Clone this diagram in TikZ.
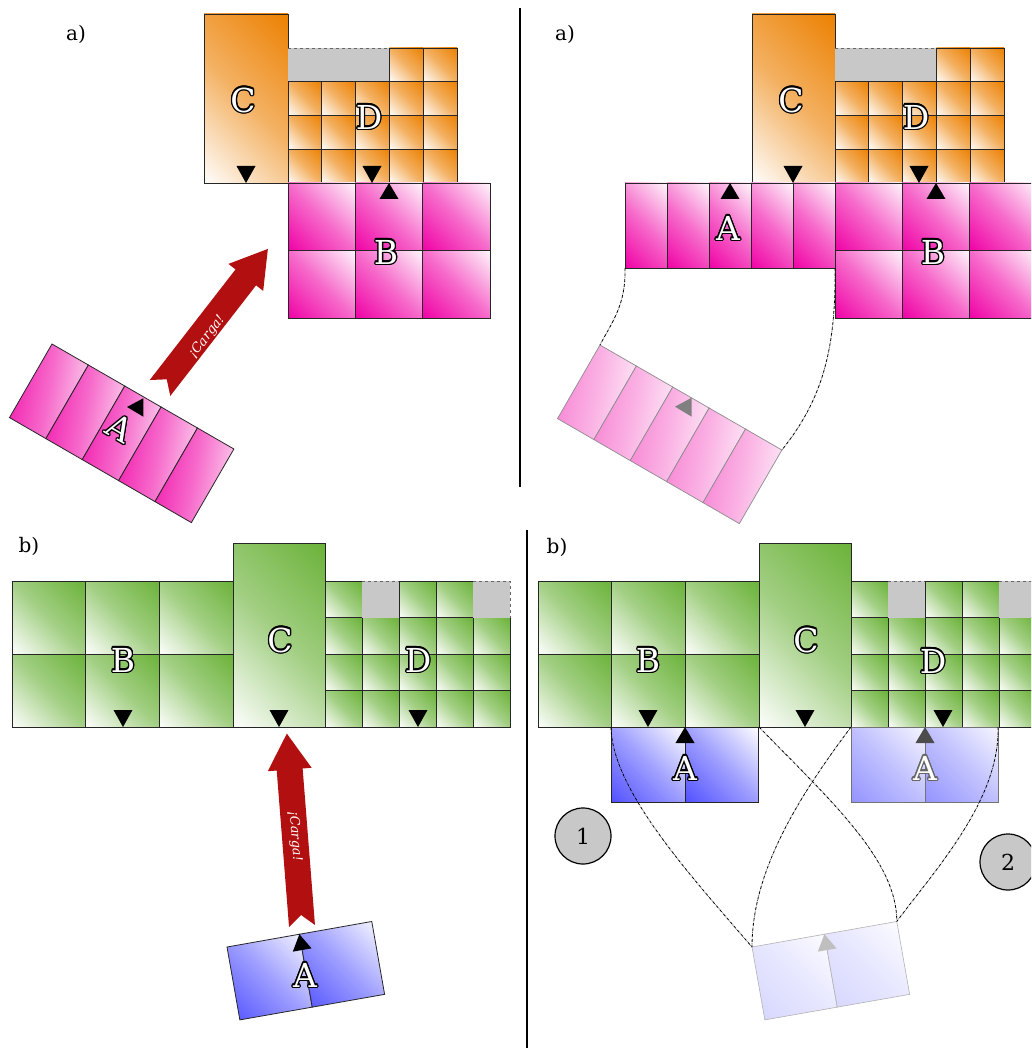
\documentclass[tikz,border=0pt]{standalone}
\usepackage{fontspec}
\setmainfont{DejaVu Serif}
\usetikzlibrary{calc}
\definecolor{Org}{RGB}{236,128,0}
\definecolor{Mag}{RGB}{240,0,165}
\definecolor{Grn}{RGB}{106,178,56}
\definecolor{Blu}{RGB}{80,80,255}
\definecolor{ArrRed}{RGB}{178,16,16}
\definecolor{Gry}{RGB}{200,200,200}
\pgfdeclareverticalshading{orgsh}{100bp}{color(0bp)=(white); color(14bp)=(white); color(50bp)=(Org!62); color(86bp)=(Org); color(100bp)=(Org)}
\pgfdeclareverticalshading{magsh}{100bp}{color(0bp)=(Mag); color(14bp)=(Mag); color(50bp)=(Mag!58); color(86bp)=(Mag!3); color(100bp)=(Mag!3)}
\pgfdeclareverticalshading{magghsh}{100bp}{color(0bp)=(Mag!55); color(14bp)=(Mag!55); color(50bp)=(Mag!30); color(86bp)=(white); color(100bp)=(white)}
\pgfdeclareverticalshading{grnsh}{100bp}{color(0bp)=(white); color(14bp)=(white); color(50bp)=(Grn!62); color(86bp)=(Grn); color(100bp)=(Grn)}
\pgfdeclareverticalshading{blush}{100bp}{color(0bp)=(Blu); color(14bp)=(Blu); color(50bp)=(Blu!55); color(86bp)=(white); color(100bp)=(white)}
\pgfdeclareverticalshading{bluhsh}{100bp}{color(0bp)=(Blu!62); color(14bp)=(Blu!62); color(50bp)=(Blu!36); color(86bp)=(Blu!5); color(100bp)=(Blu!5)}
\pgfdeclareverticalshading{blugsh}{100bp}{color(0bp)=(Blu!24); color(14bp)=(Blu!24); color(50bp)=(Blu!14); color(86bp)=(white); color(100bp)=(white)}
\tikzset{
  cellline/.style={draw=black!85, line width=0.8pt},
  org/.style={cellline, shade, shading=orgsh, shading angle=-45},
  mag/.style={cellline, shade, shading=magsh, shading angle=-45},
  magtilt/.style={cellline, shade, shading=magsh, shading angle=-100},
  magghost/.style={draw=black!45, line width=0.7pt, shade, shading=magghsh, shading angle=-100},
  grn/.style={cellline, shade, shading=grnsh, shading angle=-45},
  blu/.style={cellline, shade, shading=blush, shading angle=-45},
  bluhalf/.style={draw=black!55, line width=0.8pt, shade, shading=bluhsh, shading angle=-45},
  blughost/.style={draw=black!30, line width=0.6pt, shade, shading=blugsh, shading angle=-45},
  graycell/.style={fill=Gry},
  dashedge/.style={dashed, draw=black!60, line width=0.6pt},
  conn/.style={densely dash dot, draw=black, line width=0.8pt},
  biglbl/.style={inner sep=0pt, font=\fontsize{33}{33}\selectfont},
  panellbl/.style={inner sep=0pt, font=\fontsize{20}{20}\selectfont},
  arrowtxt/.style={inner sep=0pt, text=white, font=\fontsize{13}{13}\selectfont\itshape},
  numcircle/.style={circle, draw=black, line width=1.2pt, fill=Gry, minimum size=56pt, inner sep=0pt, font=\fontsize{22}{22}\selectfont},
  sep/.style={line width=2.5pt, draw=black},
  bigarrow/.style={fill=ArrRed},
}
% outlined label: [opts]{pos}{name}{text}{outline colour}
\newcommand\olbl[5][]{%
  \foreach \ang in {0,30,...,330}{\node[biglbl,text=#5,#1] (#3-o\ang) at ($(#2)+(\ang:1.3)$) {#4};}
  \node[biglbl,text=white,#1] (#3) at (#2) {#4};}
% triangles
\newcommand\tridn[3][black]{\fill[#1] ({#2-9.5},#3) -- ({#2+9.5},#3) -- (#2,{#3+17}) -- cycle;}
\newcommand\triup[3][black]{\fill[#1] ({#2-9.5},{#3+16}) -- ({#2+9.5},{#3+16}) -- (#2,#3) -- cycle;}
% arrow polygon along local +x, length #1
\newcommand\fatarrow[1]{\fill[bigarrow] (0,13) -- ({#1-36},13) -- ({#1-36},22) -- (#1,0) -- ({#1-36},-22) -- ({#1-36},-13) -- (0,-13) -- (11,0) -- cycle;}

\begin{document}
\begin{tikzpicture}[x=1pt,y=-1pt]
\useasboundingbox (0,0) rectangle (1031,1048);
\clip (0,0) rectangle (1031,1048);
\fill[white] (0,0) rectangle (1031,1048);

% separators
\draw[sep] (520,8) -- (520,487);
\draw[sep] (527,530) -- (527,1048);

%================ top-left panel a)
\node[panellbl] (la1) at (76,34) {a)};
\path[org] (204,14) rectangle (288,183);
\fill[graycell] (288,48) rectangle (389,82);
\draw[dashedge] (288,48) -- (389,48);
\foreach \i in {0,...,4}{\foreach \j in {1,2,3}{\path[org] ({288+\i*33.8},{48+\j*33.75}) rectangle ++(33.8,33.75);}}
\foreach \i in {3,4}{\path[org] ({288+\i*33.8},48) rectangle ++(33.8,33.75);}
\foreach \i in {0,1,2}{\foreach \j in {0,1}{\path[mag] ({288+\i*67.33},{183+\j*67.5}) rectangle ++(67.33,67.5);}}
\tridn{246}{166}
\tridn{372}{166}
\triup{389}{183}
\olbl{243,100}{lC1}{C}{black}
\olbl{369,117}{lD1}{D}{black}
\olbl{386,252}{lB1}{B}{black}
% tilted strip A
\begin{scope}[shift={(52,344)}, rotate=-30]
  \foreach \i in {0,...,4}{\path[magtilt] ({\i*42},0) rectangle ++(42,85);}
\end{scope}
\fill[black] (127,407) -- (143.3,398.3) -- (143.3,416.7) -- cycle;
\olbl[rotate=-30]{120,428}{lA1}{A}{black}
% arrow
\begin{scope}[shift={(160,388)}, rotate=52.2]
  \fatarrow{176}
\end{scope}
\node[arrowtxt, rotate=52.2] (t1) at (207,337) {¡Carga!};

%================ top-right panel a)
\node[panellbl] (la2) at (565,34) {a)};
\path[org] (752,14) rectangle (835,183);
\fill[graycell] (835,48) rectangle (936,82);
\draw[dashedge] (835,48) -- (936,48);
\foreach \i in {0,...,4}{\foreach \j in {1,2,3}{\path[org] ({835+\i*33.8},{48+\j*33.75}) rectangle ++(33.8,33.75);}}
\foreach \i in {3,4}{\path[org] ({835+\i*33.8},48) rectangle ++(33.8,33.75);}
\foreach \i in {0,...,4}{\path[mag] ({625+\i*42},183) rectangle ++(42,85);}
\foreach \i in {0,1,2}{\foreach \j in {0,1}{\path[mag] ({835+\i*67.33},{183+\j*67.5}) rectangle ++(67.33,67.5);}}
\tridn{793}{166}
\tridn{919}{166}
\triup{730}{183}
\triup{936}{183}
\olbl{791,100}{lC2}{C}{black}
\olbl{916,117}{lD2}{D}{black}
\olbl{728,228}{lA2}{A}{black}
\olbl{933,252}{lB2}{B}{black}
\coordinate (ta1) at (625,268);
\coordinate (ta2) at (835,268);
\begin{scope}[shift={(600,345)}, rotate=-30]
  \foreach \i in {0,...,4}{\path[magghost] ({\i*42},0) rectangle ++(42,85);}
  \coordinate (tg1) at (0,0);
  \coordinate (tg2) at (210,0);
\end{scope}
\fill[black!50] (675,406.7) -- (691.7,397.7) -- (691.7,416.7) -- cycle;
\draw[conn] (ta1) .. controls (626,305) and (612,322) .. (tg1);
\draw[conn] (ta2) .. controls (836,350) and (822,400) .. (tg2);

%================ bottom-left panel b)
\node[panellbl] (lb1) at (29,546) {b)};
\foreach \i in {0,1,2}{\foreach \j in {0,1}{\path[grn] ({12+\i*73.67},{581+\j*73}) rectangle ++(73.67,73);}}
\path[grn] (233,543) rectangle (325,727);
\foreach \i in {0,...,4}{\foreach \j in {1,2,3}{\path[grn] ({325+\i*37},{581+\j*36.5}) rectangle ++(37,36.5);}}
\foreach \i in {0,2,3}{\path[grn] ({325+\i*37},581) rectangle ++(37,36.5);}
\fill[graycell] (362,581) rectangle (399,617.5);
\fill[graycell] (473,581) rectangle (510,617.5);
\draw[dashedge] (362,581) -- (399,581);
\draw[dashedge] (473,581) -- (510,581) -- (510,617.5);
\tridn{123}{710}
\tridn{279}{710}
\tridn{418}{710}
\olbl{123,660}{lB3}{B}{black}
\olbl{280,640}{lC3}{C}{black}
\olbl{418,660}{lD3}{D}{black}
\begin{scope}[shift={(302,926)}, rotate=94.5]
  \fatarrow{193}
\end{scope}
\node[arrowtxt, rotate=-85.5] (t2) at (295,836) {¡Carga!};
\begin{scope}[shift={(227,947)}, rotate=10]
  \path[blu] (0,0) rectangle (73.5,74);
  \path[blu] (73.5,0) rectangle (147,74);
  \fill[black] (64,16) -- (83,16) -- (73.5,0) -- cycle;
\end{scope}
\olbl{305,975}{lA3}{A}{black}

%================ bottom-right panel b)
\node[panellbl] (lb2) at (557,547) {b)};
\foreach \i in {0,1,2}{\foreach \j in {0,1}{\path[grn] ({538+\i*73.67},{581+\j*73}) rectangle ++(73.67,73);}}
\path[grn] (759,543) rectangle (851,727);
\foreach \i in {0,...,4}{\foreach \j in {1,2,3}{\path[grn] ({851+\i*37},{581+\j*36.5}) rectangle ++(37,36.5);}}
\foreach \i in {0,2,3}{\path[grn] ({851+\i*37},581) rectangle ++(37,36.5);}
\fill[graycell] (888,581) rectangle (925,617.5);
\fill[graycell] (999,581) rectangle (1036,617.5);
\draw[dashedge] (888,581) -- (925,581);
\draw[dashedge] (999,581) -- (1036,581);
\tridn{648}{710}
\tridn{805}{710}
\tridn{943}{710}
\olbl{648,660}{lB4}{B}{black}
\olbl{806,640}{lC4}{C}{black}
\olbl{933,661}{lD4}{D}{black}
% A1
\path[blu] (611,727) rectangle (685,802);
\path[blu] (685,727) rectangle (758,802);
\triup{685}{727}
\olbl{685,768}{lA4}{A}{black}
% A2
\path[bluhalf] (851,727) rectangle (925,802);
\path[bluhalf] (925,727) rectangle (998,802);
\triup[black!70]{925}{727}
\olbl{925,768}{lA5}{A}{black!60}
% ghost
\begin{scope}[shift={(752,947)}, rotate=10]
  \path[blughost] (0,0) rectangle (73.5,74);
  \path[blughost] (73.5,0) rectangle (147,74);
  \fill[black!25] (64,16) -- (83,16) -- (73.5,0) -- cycle;
  \coordinate (bg1) at (0,0);
  \coordinate (bg2) at (147,0);
\end{scope}
\coordinate (ba1) at (611,727);
\coordinate (bc1) at (759,727);
\coordinate (bc2) at (851,727);
\coordinate (ba2) at (998,727);
\draw[conn] (ba1) .. controls (612,790) and (690,875) .. (bg1);
\draw[conn] (bc1) .. controls (830,800) and (897,860) .. (bg2);
\draw[conn] (bc2) .. controls (800,795) and (752,870) .. (bg1);
\draw[conn] (ba2) .. controls (1000,800) and (935,870) .. (bg2);
\node[numcircle] (n1) at (583,836) {1};
\node[numcircle] (n2) at (1008,862) {2};
\end{tikzpicture}
\end{document}
